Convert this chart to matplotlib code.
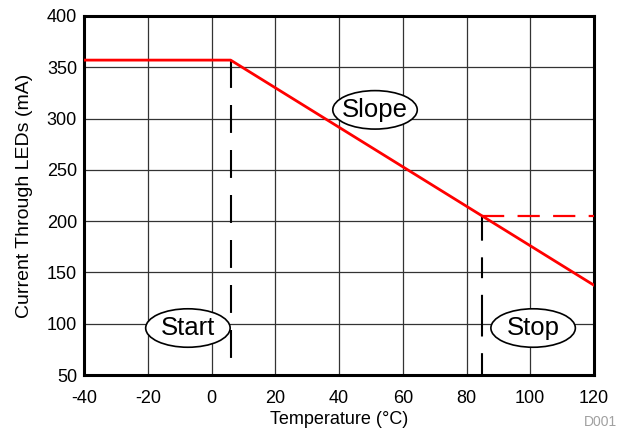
import matplotlib
matplotlib.use("Agg")
import matplotlib.pyplot as plt
from matplotlib.patches import Ellipse

plt.rcParams['font.family'] = ['Liberation Sans', 'DejaVu Sans']

# profile breakpoints (temperature in degC, current in mA)
temp_pts = [-40, 6, 120]
curr_pts = [357, 357, 137.5]
start_temp = 6
stop_temp = 85
stop_curr = 205.5
x_ticks = [-40, -20, 0, 20, 40, 60, 80, 100, 120]
y_ticks = [50, 100, 150, 200, 250, 300, 350, 400]

# callout labels and their centres
callouts = ['Start', 'Slope', 'Stop']
callout_x = [-7.4, 51.3, 100.9]
callout_y = [95.8, 308.5, 95.8]

fig = plt.figure(figsize=(6.18, 4.34), dpi=100)
ax = fig.add_axes([84 / 618, 59 / 434, 510 / 618, 359 / 434])

ax.plot(temp_pts, curr_pts, color='#ff0000', lw=2, zorder=4)
ax.plot([stop_temp, 120], [stop_curr, stop_curr], color='#ff0000', lw=1.6,
        dashes=(10, 6), zorder=4)
ax.plot([start_temp, start_temp], [curr_pts[1], 60], color='black', lw=1.5,
        dashes=(13.4, 8.2), zorder=3)
ax.plot([stop_temp, stop_temp], [51, stop_curr], color='black', lw=1.5,
        dashes=(10, 8, 20, 8), zorder=3)

ax.set_xlim(-40, 120)
ax.set_ylim(50, 400)
ax.set_xticks(x_ticks)
ax.set_yticks(y_ticks)
ax.set_xticklabels([str(v) for v in x_ticks])
ax.tick_params(length=0, labelsize=13)
ax.tick_params(axis='x', pad=11)
ax.tick_params(axis='y', pad=5)
ax.grid(True, color='#333333', lw=0.9)
for s in ax.spines.values():
    s.set_linewidth(2.2)

ax.set_xlabel('Temperature (°C)', fontsize=13, labelpad=3)
ax.set_ylabel('Current Through LEDs (mA)', fontsize=14, labelpad=10)

for lab, cx, cy in zip(callouts, callout_x, callout_y):
    ax.add_patch(Ellipse((cx, cy), 26.5, 37.5, fc='white', ec='black', lw=1.2, zorder=5))
    ax.text(cx, cy, lab, fontsize=18.5, ha='center', va='center', zorder=6)

fig.text(0.998, 0.012, 'D001', fontsize=10, color='#a0a0a0', ha='right', va='bottom')

fig.savefig('out.png', dpi=100)
